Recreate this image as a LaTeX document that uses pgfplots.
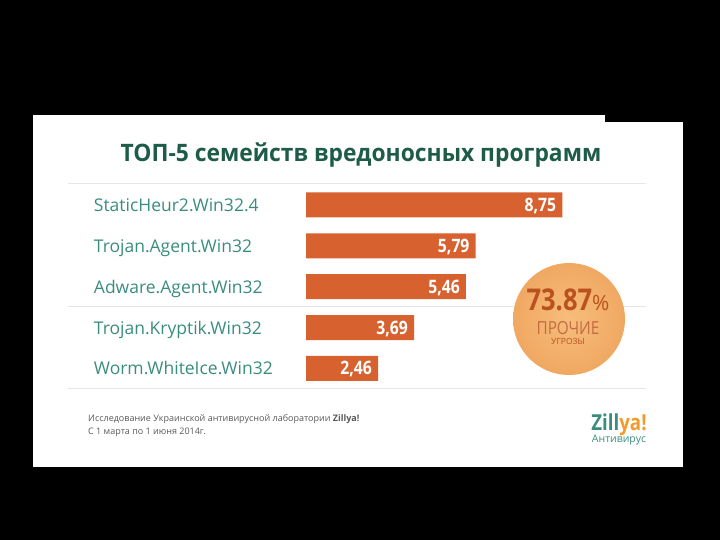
\documentclass[border=0pt]{standalone}
\usepackage{pgfplots}
\pgfplotsset{compat=1.18}
\usepackage{pgfplotstable}
\usepackage{fontspec}
\setmainfont{Open Sans}
\newfontfamily\cond{Open Sans}[FakeStretch=0.85]
\newfontfamily\titlefont{Open Sans}[FakeStretch=0.95]

\definecolor{barc}{HTML}{D8622F}
\definecolor{lab}{HTML}{3A8D7E}
\definecolor{ttl}{HTML}{1E5C48}
\definecolor{circin}{HTML}{F7BD7C}
\definecolor{circout}{HTML}{F0A862}
\definecolor{circtxt}{HTML}{B9521F}
\definecolor{rulec}{HTML}{E6E6E6}
\definecolor{foot}{HTML}{5A5A5A}
\definecolor{logoor}{HTML}{F39A2A}

% bar values, top to bottom
\pgfplotstableread{
idx val lbl
1 8.75 8,75
2 5.79 5,79
3 5.46 5,46
4 3.69 3,69
5 2.46 2,46
}\topfive

\begin{document}
\begin{tikzpicture}
% background: 1pt = 1px, origin top-left
\fill[black] (0pt,0pt) rectangle (720pt,-540pt);
\fill[white] (33pt,-115pt) rectangle (605pt,-122pt);
\fill[white] (33pt,-122pt) rectangle (683pt,-467pt);

\node[anchor=base, text=ttl, inner sep=0pt] at (361pt,-162pt)
  {\titlefont\bfseries\fontsize{24}{24}\selectfont ТОП-5 семейств вредоносных программ};

\draw[rulec, line width=1pt] (68pt,-184pt) -- (646pt,-184pt);
\draw[rulec, line width=1pt] (68pt,-306pt) -- (646pt,-306pt);
\draw[rulec, line width=1pt] (68pt,-388pt) -- (646pt,-388pt);

\begin{axis}[
    at={(306pt,-184.4pt)}, anchor=north west,
    scale only axis,
    width=351.6pt, height=204.5pt,
    xmin=0, xmax=12,
    ymin=0.5, ymax=5.5,
    y dir=reverse,
    xbar, bar width=25pt, bar shift=0pt,
    axis line style={draw=none},
    tick style={draw=none},
    xtick=\empty,
    ytick={1,2,3,4,5},
    yticklabels={StaticHeur2.Win32.4, Trojan.Agent.Win32, Adware.Agent.Win32,
                 Trojan.Kryptik.Win32, Worm.WhiteIce.Win32},
    yticklabel style={anchor=base west, inner sep=0pt, xshift=-208pt, yshift=-6.5pt,
                      text=lab, font=\fontsize{17.5}{20}\selectfont},
    nodes near coords,
    point meta=explicit symbolic,
    every node near coord/.append style={anchor=base east, xshift=-6pt, yshift=-6.5pt,
        inner sep=0pt, text=white, font=\cond\bfseries\fontsize{18.5}{20}\selectfont},
    clip=false,
]
\addplot[fill=barc, draw=none] table[x=val, y=idx, meta=lbl] {\topfive};
\end{axis}

% share of the other threats
\shade[inner color=circin, outer color=circout] (569pt,-319pt) circle (56pt);
\node[anchor=base, inner sep=0pt, text=circtxt] at (568pt,-310pt)
  {{\cond\bfseries\fontsize{30}{30}\selectfont 73.87}{\fontsize{21}{21}\selectfont\%}};
\node[anchor=base, inner sep=0pt, text=circtxt!85!white] at (568pt,-334pt)
  {\cond\fontsize{18}{18}\selectfont ПРОЧИЕ};
\node[anchor=base, inner sep=0pt, text=circtxt] at (568pt,-344pt)
  {\fontsize{8.5}{8.5}\selectfont УГРОЗЫ};

% footer
\node[anchor=base west, inner sep=0pt, text=foot] at (88pt,-421pt)
  {\fontsize{9}{9}\selectfont Исследование Украинской антивирусной лаборатории \textbf{Zillya!}};
\node[anchor=base west, inner sep=0pt, text=foot] at (88pt,-434pt)
  {\fontsize{9}{9}\selectfont С 1 марта по 1 июня 2014г.};
\node[anchor=base, inner sep=0pt] at (619pt,-430pt)
  {\cond\bfseries\fontsize{22}{22}\selectfont\textcolor{lab}{Zill}\textcolor{logoor}{ya!}};
\node[anchor=base, inner sep=0pt, text=lab] at (619pt,-442pt)
  {\fontsize{10.5}{10.5}\selectfont Антивирус};
\end{tikzpicture}
\end{document}
